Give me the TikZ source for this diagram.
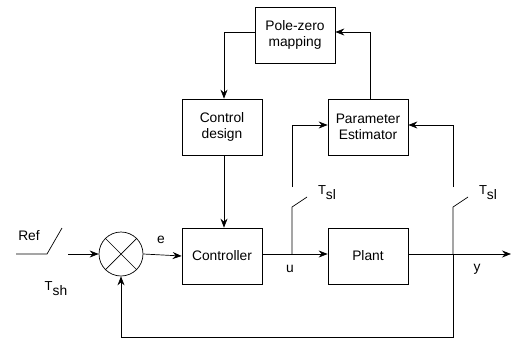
\documentclass[tikz,border=0pt]{standalone}
\usepackage{fontspec}
\setmainfont{Liberation Sans}
\usetikzlibrary{arrows.meta,calc}
\newcommand{\Tsub}[1]{\raisebox{5pt}{\fontsize{13}{14}\selectfont T}#1}
\begin{document}
\begin{tikzpicture}[x=1pt,y=-1pt,
  blk/.style={draw,line width=0.7pt,minimum width=80pt,minimum height=56pt,align=center,inner sep=0pt,font=\fontsize{13.8}{15.5}\selectfont},
  lbl/.style={font=\fontsize{13.8}{15.5}\selectfont,inner sep=0pt},
  ln/.style={line width=0.7pt},
  arr/.style={ln,-{Stealth[length=9pt,width=7pt,inset=3pt]}}]
\useasboundingbox (0,0) rectangle (511,340);
\node[blk] (pz) at (295,35) {Pole-zero\\mapping};
\node[blk] (cd) at (222,127) {Control\\design};
\node[blk] (pe) at (368,127) {Parameter\\Estimator};
\node[blk] (ctl) at (222,256) {Controller};
\node[blk] (pl) at (368,256) {Plant};
\node[draw,circle,ln,minimum size=44pt,inner sep=0pt] (sum) at (121,254) {};
\draw[ln] (sum.45) -- (sum.225) (sum.135) -- (sum.315);
% ref switch
\coordinate (r0) at (16,254);
\coordinate (r1) at (47,254);
\coordinate (r2) at (62,228);
\coordinate (r3) at (68,254);
\draw[ln] (r0) -- (r1) -- (r2);
\draw[arr] (r3) -- (sum.west);
\node[lbl] (ref) at (29,236) {Ref};
\node[lbl] (tsh) at (56,289) {\Tsub{sh}};
\draw[arr] (sum.east) -- (ctl.west);
\node[lbl] (e) at (161,240) {e};
% main line
\coordinate (u) at (292,254);
\draw[arr] (ctl.east |- u) -- (pl.west |- u);
\node[lbl] (ul) at (290,269) {u};
\coordinate (yend) at (511,254);
\draw[arr] (pl.east |- u) -- (yend);
\node[lbl] (yl) at (477,269) {y};
% u switch
\coordinate (u1) at (292,207);
\coordinate (u2) at (307,197);
\coordinate (u3) at (292,187);
\coordinate (u4) at (292,125);
\draw[ln] (u) -- (u1) -- (u2);
\draw[arr] (u3) -- (u4) -- (pe.west |- u4);
\node[lbl] (tsl1) at (327,193) {\Tsub{sl}};
% y switch
\coordinate (y0) at (453,254);
\coordinate (y1) at (453,207);
\coordinate (y2) at (468,197);
\coordinate (y3) at (453,187);
\coordinate (y4) at (453,125);
\draw[ln] (y0) -- (y1) -- (y2);
\draw[arr] (y3) -- (y4) -- (pe.east |- y4);
\node[lbl] (tsl2) at (488,193) {\Tsub{sl}};
% feedback
\coordinate (f1) at (453,337);
\coordinate (f2) at (121,337);
\draw[arr] (y0) -- (f1) -- (f2) -- (sum.south);
% top loop
\coordinate (t1) at (370,32);
\draw[arr] (pe.north -| t1) -- (t1) -- (pz.east |- t1);
\coordinate (t2) at (224,32);
\draw[arr] (pz.west |- t2) -- (t2) -- (cd.north -| t2);
\draw[arr] (cd.south -| t2) -- (ctl.north -| t2);
\end{tikzpicture}
\end{document}
